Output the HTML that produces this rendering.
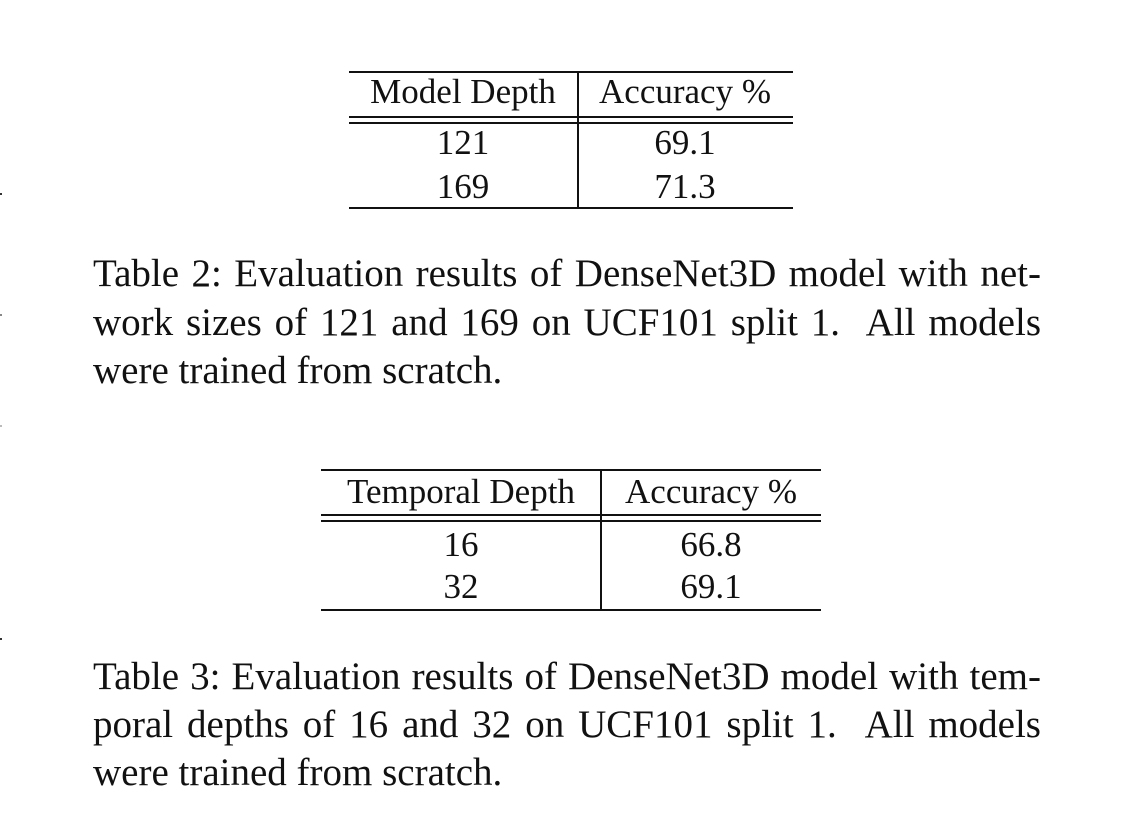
<!DOCTYPE html>
<html><head><meta charset="utf-8"><style>
body{margin:0;width:1142px;height:828px;background:#fff;position:relative;overflow:hidden;font-family:"Liberation Serif",serif;color:#111}
.t{position:absolute;line-height:1;white-space:nowrap}
.h{position:absolute;height:1.5px;background:#111}
.v{position:absolute;width:1.5px;background:#111}
.c{font-size:35px;transform:translateX(-50%)}
.cap{font-size:39px;left:93px;width:948px;text-align:justify;text-align-last:justify}
.m{position:absolute;left:0;width:2px;height:2px;background:#333}
</style></head><body>
<div class="m" style="top:193px"></div>
<div class="m" style="top:314px;background:#888"></div>
<div class="m" style="top:425px;background:#bbb"></div>
<div class="m" style="top:638px"></div>

<div>
<div class="h" style="left:349px;width:444px;top:71px"></div>
<div class="h" style="left:349px;width:444px;top:116px"></div>
<div class="h" style="left:349px;width:444px;top:122px"></div>
<div class="h" style="left:349px;width:444px;top:207px"></div>
<div class="v" style="left:577px;top:72px;height:136px"></div>
<div class="t c" style="left:463px;top:74px">Model Depth</div>
<div class="t c" style="left:685px;top:74px">Accuracy %</div>
<div class="t c" style="left:463px;top:125px">121</div>
<div class="t c" style="left:685px;top:125px">69.1</div>
<div class="t c" style="left:463px;top:169px">169</div>
<div class="t c" style="left:685px;top:169px">71.3</div>
</div>

<div class="t cap" style="top:254px">Table 2: Evaluation results of DenseNet3D model with net-</div>
<div class="t cap" style="top:303px">work sizes of 121 and 169 on UCF101 split 1. &nbsp;All models</div>
<div class="t cap" style="top:351px;text-align-last:left;text-align:left">were trained from scratch.</div>

<div>
<div class="h" style="left:321px;width:500px;top:469px"></div>
<div class="h" style="left:321px;width:500px;top:514px"></div>
<div class="h" style="left:321px;width:500px;top:520px"></div>
<div class="h" style="left:321px;width:500px;top:609px"></div>
<div class="v" style="left:600px;top:470px;height:140px"></div>
<div class="t c" style="left:461px;top:474px">Temporal Depth</div>
<div class="t c" style="left:711px;top:474px">Accuracy %</div>
<div class="t c" style="left:461px;top:527px">16</div>
<div class="t c" style="left:711px;top:527px">66.8</div>
<div class="t c" style="left:461px;top:569px">32</div>
<div class="t c" style="left:711px;top:569px">69.1</div>
</div>

<div class="t cap" style="top:657px">Table 3: Evaluation results of DenseNet3D model with tem-</div>
<div class="t cap" style="top:705px">poral depths of 16 and 32 on UCF101 split 1. &nbsp;All models</div>
<div class="t cap" style="top:753px;text-align-last:left;text-align:left">were trained from scratch.</div>
</body></html>
